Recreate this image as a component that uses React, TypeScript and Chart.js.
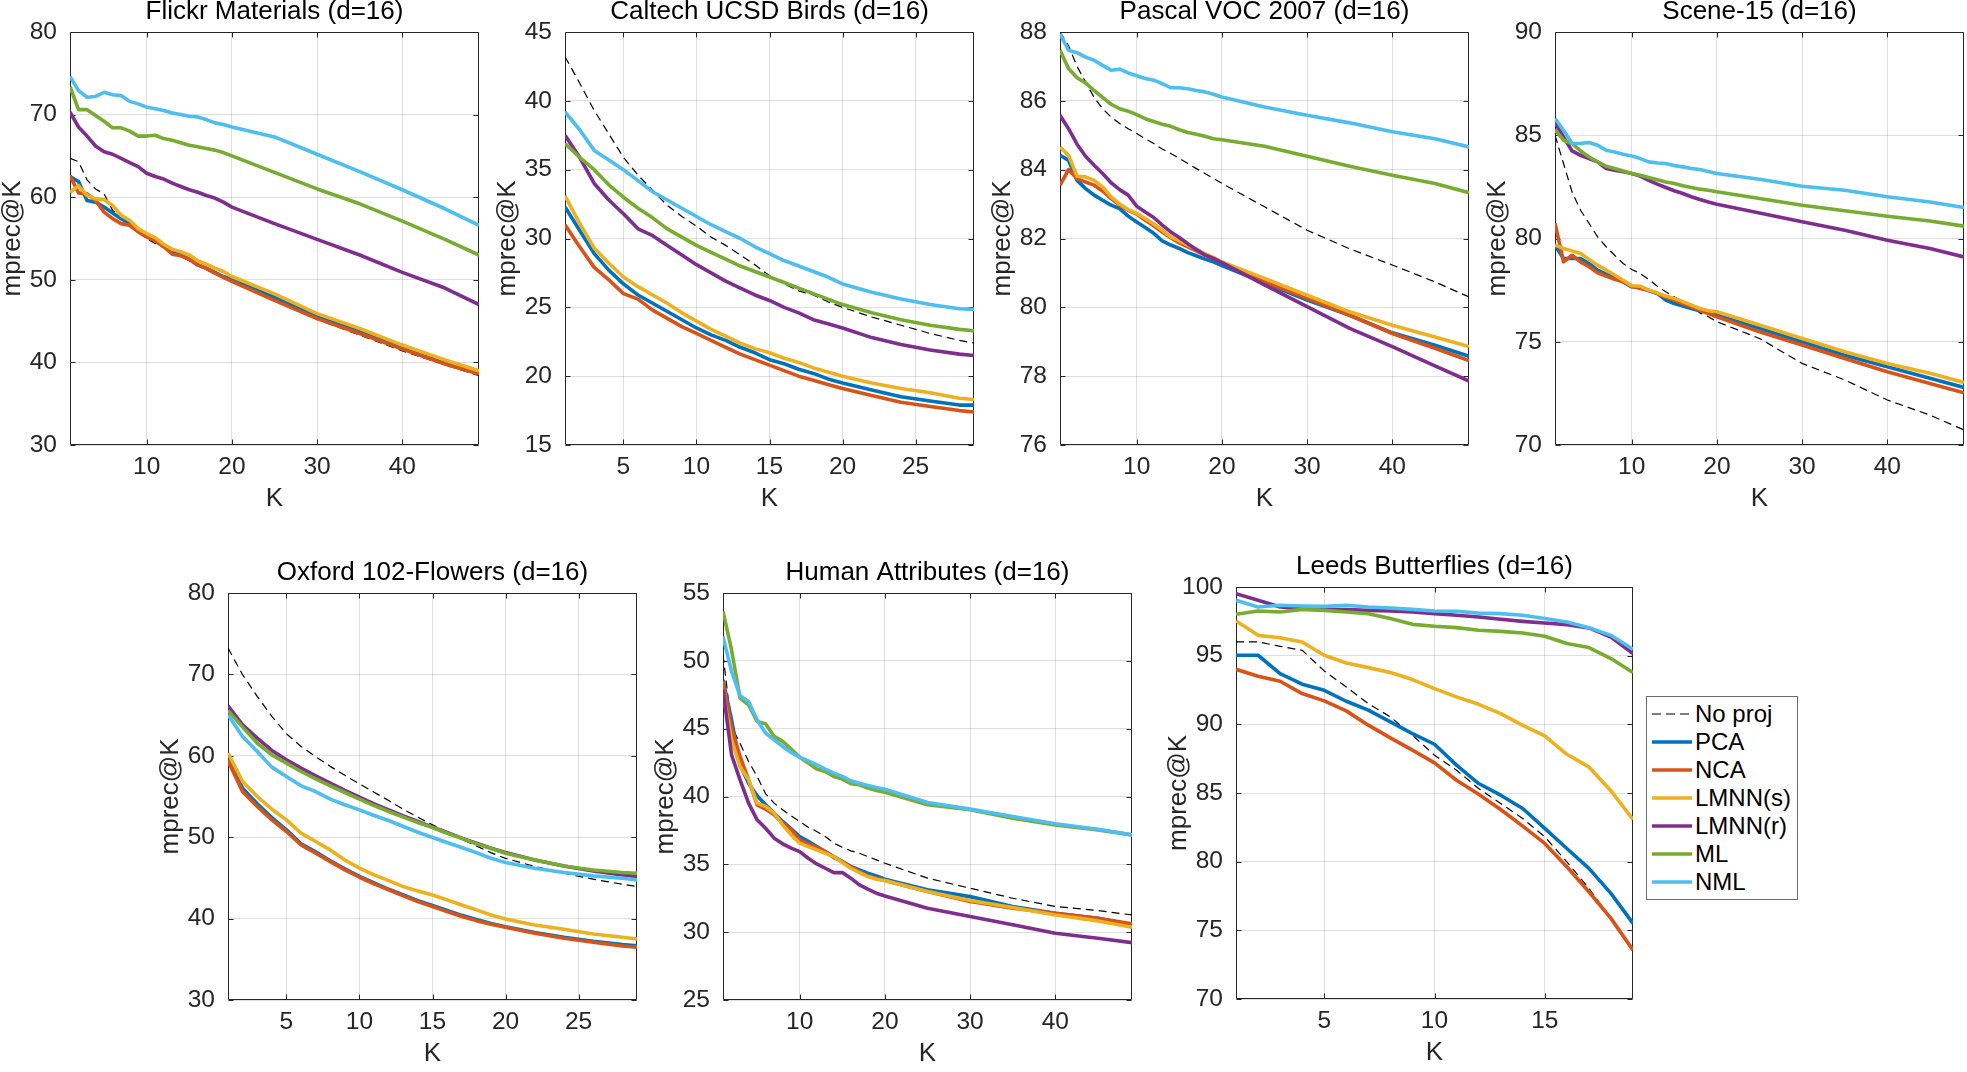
import React, { useEffect, useRef } from "react";
import { Chart, registerables } from "chart.js";

Chart.register(...registerables);

const FONT = '"Liberation Sans", Arial, Helvetica, sans-serif';
const AXIS_COLOR = "#262626";

const seriesNames = ["No proj", "PCA", "NCA", "LMNN(s)", "LMNN(r)", "ML", "NML"];
const seriesColors = ["#000000", "#0072BD", "#D95319", "#EDB120", "#7E2F8E", "#77AC30", "#4DBEEE"];

// K values sampled per panel
const kLong = [1, 2, 3, 4, 5, 6, 7, 8, 9, 10, 11, 12, 13, 14, 15, 16, 17, 18, 19, 20, 25, 30, 35, 40, 45, 49];
const kMid = [1, 2, 3, 4, 5, 6, 7, 8, 9, 10, 11, 12, 13, 14, 15, 16, 17, 18, 19, 20, 22, 24, 26, 28, 29];
const kLeeds = [1, 2, 3, 4, 5, 6, 7, 8, 9, 10, 11, 12, 13, 14, 15, 16, 17, 18, 19];

const xTicksLong = [10, 20, 30, 40];
const xTicksMid = [5, 10, 15, 20, 25];
const xTicksLeeds = [5, 10, 15];

// Flickr Materials
const flickrNoProj = [64.7, 64.3, 62.1, 61.0, 60.4, 58.4, 57.6, 56.7, 55.8, 55.0, 54.4, 53.9, 53.3, 52.8, 52.3, 51.7, 51.2, 50.7, 50.2, 49.7, 47.7, 45.2, 43.3, 41.4, 39.7, 38.4];
const flickrPCA = [62.5, 61.9, 59.6, 59.4, 58.8, 58.1, 57.4, 56.8, 56.1, 55.4, 54.8, 54.2, 53.4, 53.0, 52.5, 51.8, 51.4, 50.9, 50.4, 50.0, 47.9, 45.5, 43.8, 41.7, 39.9, 38.7];
const flickrNCA = [62.6, 60.5, 60.4, 59.6, 58.2, 57.4, 56.8, 56.6, 55.8, 55.2, 54.7, 54.0, 53.1, 52.9, 52.5, 51.8, 51.4, 50.8, 50.3, 49.8, 47.5, 45.3, 43.5, 41.6, 39.8, 38.6];
const flickrLMNNs = [60.6, 61.4, 60.2, 59.8, 59.7, 59.0, 57.8, 57.2, 56.2, 55.6, 55.1, 54.3, 53.7, 53.4, 53.0, 52.3, 51.9, 51.4, 51.0, 50.4, 48.3, 45.9, 44.1, 42.1, 40.3, 39.0];
const flickrLMNNr = [70.3, 68.5, 67.4, 66.2, 65.5, 65.2, 64.7, 64.2, 63.7, 62.9, 62.5, 62.2, 61.7, 61.3, 60.9, 60.6, 60.2, 59.9, 59.4, 58.8, 56.8, 54.9, 53.0, 50.9, 49.0, 47.0];
const flickrML = [73.4, 70.6, 70.6, 69.9, 69.2, 68.4, 68.4, 68.0, 67.4, 67.4, 67.5, 67.1, 66.9, 66.6, 66.3, 66.1, 65.9, 65.7, 65.4, 65.0, 63.0, 61.0, 59.2, 57.1, 54.9, 53.0];
const flickrNML = [74.6, 72.9, 72.1, 72.2, 72.7, 72.4, 72.3, 71.6, 71.3, 70.9, 70.7, 70.5, 70.2, 70.0, 69.8, 69.7, 69.4, 69.0, 68.8, 68.5, 67.3, 65.2, 63.1, 60.9, 58.6, 56.6];

// Caltech UCSD Birds
const birdsNoProj = [43.2, 41.3, 39.3, 37.6, 35.9, 34.6, 33.5, 32.4, 31.6, 30.9, 30.1, 29.5, 28.8, 28.1, 27.3, 26.7, 26.2, 25.9, 25.4, 25.0, 24.3, 23.7, 23.1, 22.6, 22.4];
const birdsPCA = [32.3, 30.6, 28.9, 27.7, 26.7, 25.9, 25.3, 24.7, 24.1, 23.5, 23.0, 22.6, 22.1, 21.7, 21.2, 20.9, 20.5, 20.2, 19.8, 19.5, 19.0, 18.5, 18.2, 17.9, 17.9];
const birdsNCA = [31.0, 29.4, 27.9, 27.0, 26.0, 25.6, 24.8, 24.2, 23.6, 23.1, 22.6, 22.1, 21.6, 21.2, 20.8, 20.4, 20.0, 19.7, 19.4, 19.1, 18.6, 18.1, 17.8, 17.5, 17.4];
const birdsLMNNs = [33.1, 31.1, 29.3, 28.2, 27.2, 26.5, 25.9, 25.3, 24.6, 24.0, 23.4, 22.9, 22.4, 22.0, 21.7, 21.3, 21.0, 20.6, 20.3, 20.0, 19.5, 19.1, 18.8, 18.4, 18.3];
const birdsLMNNr = [37.5, 35.9, 34.0, 32.8, 31.8, 30.7, 30.2, 29.5, 28.8, 28.1, 27.5, 26.9, 26.4, 25.9, 25.5, 25.0, 24.6, 24.1, 23.8, 23.5, 22.8, 22.3, 21.9, 21.6, 21.5];
const birdsML = [36.9, 35.9, 35.0, 33.9, 33.0, 32.2, 31.5, 30.7, 30.1, 29.5, 29.0, 28.5, 28.0, 27.6, 27.2, 26.8, 26.4, 26.0, 25.6, 25.2, 24.6, 24.1, 23.7, 23.4, 23.3];
const birdsNML = [39.2, 37.9, 36.4, 35.7, 35.0, 34.2, 33.4, 32.8, 32.2, 31.6, 31.0, 30.5, 30.0, 29.4, 28.9, 28.4, 28.0, 27.6, 27.2, 26.7, 26.1, 25.6, 25.2, 24.9, 24.85];

// Pascal VOC 2007
const vocNoProj = [88.0, 87.6, 87.0, 86.55, 86.1, 85.77, 85.53, 85.34, 85.19, 85.05, 84.9, 84.76, 84.6, 84.47, 84.33, 84.18, 84.03, 83.89, 83.75, 83.6, 82.92, 82.24, 81.7, 81.23, 80.74, 80.3];
const vocPCA = [84.42, 84.27, 83.69, 83.45, 83.26, 83.11, 82.97, 82.87, 82.65, 82.48, 82.32, 82.15, 81.93, 81.81, 81.71, 81.59, 81.5, 81.4, 81.32, 81.21, 80.71, 80.21, 79.77, 79.26, 78.9, 78.58];
const vocNCA = [83.55, 84.0, 83.74, 83.64, 83.55, 83.38, 83.16, 82.97, 82.82, 82.71, 82.53, 82.37, 82.19, 82.02, 81.87, 81.76, 81.64, 81.52, 81.42, 81.3, 80.74, 80.26, 79.77, 79.24, 78.81, 78.45];
const vocLMNNs = [84.66, 84.42, 83.81, 83.79, 83.69, 83.5, 83.21, 83.0, 82.84, 82.73, 82.58, 82.42, 82.24, 82.05, 81.93, 81.81, 81.69, 81.56, 81.45, 81.32, 80.84, 80.35, 79.87, 79.48, 79.14, 78.86];
const vocLMNNr = [85.58, 85.19, 84.74, 84.39, 84.13, 83.89, 83.62, 83.42, 83.26, 82.94, 82.77, 82.61, 82.39, 82.19, 82.03, 81.85, 81.68, 81.52, 81.42, 81.3, 80.65, 80.02, 79.39, 78.86, 78.3, 77.86];
const vocML = [87.47, 86.94, 86.67, 86.52, 86.3, 86.1, 85.9, 85.77, 85.7, 85.6, 85.48, 85.4, 85.32, 85.26, 85.16, 85.08, 85.03, 84.97, 84.9, 84.87, 84.68, 84.39, 84.1, 83.84, 83.6, 83.33];
const vocNML = [87.95, 87.47, 87.4, 87.27, 87.18, 87.03, 86.89, 86.92, 86.81, 86.73, 86.65, 86.6, 86.5, 86.38, 86.38, 86.35, 86.3, 86.26, 86.19, 86.11, 85.82, 85.58, 85.36, 85.1, 84.9, 84.66];

// Scene-15
const sceneNoProj = [85.0, 83.63, 82.26, 81.37, 80.73, 80.08, 79.6, 79.19, 78.79, 78.5, 78.31, 78.02, 77.69, 77.42, 77.18, 76.94, 76.69, 76.4, 76.21, 75.97, 75.16, 73.95, 73.15, 72.18, 71.45, 70.73];
const scenePCA = [79.68, 79.03, 79.03, 79.03, 78.79, 78.47, 78.27, 78.11, 77.9, 77.66, 77.63, 77.47, 77.34, 77.02, 76.85, 76.73, 76.61, 76.5, 76.4, 76.29, 75.65, 75.0, 74.35, 73.79, 73.23, 72.79];
const sceneNCA = [80.73, 78.87, 79.19, 78.87, 78.63, 78.34, 78.18, 78.02, 77.9, 77.69, 77.58, 77.5, 77.34, 77.15, 77.02, 76.85, 76.69, 76.53, 76.37, 76.21, 75.48, 74.84, 74.19, 73.55, 72.98, 72.53];
const sceneLMNNs = [79.68, 79.52, 79.4, 79.27, 78.98, 78.71, 78.47, 78.23, 77.98, 77.71, 77.69, 77.5, 77.37, 77.21, 77.1, 76.94, 76.77, 76.61, 76.5, 76.45, 75.81, 75.16, 74.52, 73.95, 73.47, 73.03];
const sceneLMNNr = [85.6, 84.92, 84.24, 84.03, 83.87, 83.71, 83.39, 83.31, 83.23, 83.15, 83.02, 82.82, 82.63, 82.47, 82.31, 82.18, 82.02, 81.89, 81.77, 81.66, 81.24, 80.81, 80.4, 79.92, 79.52, 79.11];
const sceneML = [85.27, 84.76, 84.6, 84.24, 83.95, 83.71, 83.5, 83.39, 83.27, 83.15, 83.06, 82.95, 82.85, 82.74, 82.66, 82.55, 82.47, 82.39, 82.34, 82.26, 81.94, 81.61, 81.34, 81.08, 80.85, 80.6];
const sceneNML = [85.81, 85.24, 84.6, 84.6, 84.65, 84.52, 84.27, 84.19, 84.08, 84.0, 83.87, 83.71, 83.66, 83.63, 83.53, 83.47, 83.39, 83.34, 83.24, 83.15, 82.87, 82.53, 82.34, 82.02, 81.77, 81.5];

// Oxford 102-Flowers
const flowersNoProj = [73.24, 69.96, 67.3, 64.84, 62.7, 61.15, 59.9, 58.7, 57.6, 56.56, 55.53, 54.5, 53.44, 52.46, 51.52, 50.6, 49.75, 48.93, 48.1, 47.4, 46.4, 45.57, 44.84, 44.22, 43.93];
const flowersPCA = [59.7, 56.0, 54.1, 52.4, 50.9, 49.2, 48.2, 47.1, 46.1, 45.2, 44.4, 43.6, 42.9, 42.2, 41.6, 41.0, 40.4, 39.9, 39.4, 39.0, 38.3, 37.7, 37.2, 36.8, 36.65];
const flowersNCA = [59.4, 55.6, 53.77, 52.13, 50.7, 49.06, 48.03, 47.0, 45.98, 45.08, 44.26, 43.52, 42.79, 42.09, 41.48, 40.86, 40.25, 39.75, 39.3, 38.93, 38.2, 37.58, 37.09, 36.64, 36.48];
const flowersLMNNs = [60.33, 56.84, 55.0, 53.44, 52.13, 50.5, 49.47, 48.44, 47.2, 46.2, 45.37, 44.67, 43.93, 43.4, 42.9, 42.3, 41.68, 41.07, 40.45, 39.96, 39.22, 38.69, 38.11, 37.7, 37.5];
const flowersLMNNr = [66.15, 63.81, 62.17, 60.66, 59.51, 58.48, 57.54, 56.64, 55.74, 54.92, 54.1, 53.36, 52.62, 51.93, 51.23, 50.57, 49.88, 49.26, 48.65, 48.11, 47.21, 46.47, 45.86, 45.37, 45.16];
const flowersML = [65.57, 63.52, 61.56, 60.12, 59.1, 58.07, 57.17, 56.31, 55.49, 54.67, 53.89, 53.16, 52.46, 51.8, 51.19, 50.49, 49.88, 49.18, 48.65, 48.03, 47.21, 46.47, 45.98, 45.66, 45.57];
const flowersNML = [65.04, 62.38, 60.53, 58.61, 57.46, 56.31, 55.61, 54.67, 53.98, 53.36, 52.66, 52.05, 51.31, 50.61, 49.96, 49.34, 48.73, 48.11, 47.42, 46.89, 46.19, 45.66, 45.25, 44.96, 44.75];

// Human Attributes
const humanNoProj = [50.45, 45.16, 43.93, 42.58, 41.48, 40.2, 39.51, 39.02, 38.57, 38.16, 37.74, 37.42, 37.05, 36.56, 36.26, 35.99, 35.82, 35.57, 35.33, 35.08, 33.98, 33.24, 32.5, 31.89, 31.59, 31.27];
const humanPCA = [48.6, 45.66, 42.34, 40.98, 40.05, 39.39, 38.77, 38.16, 37.62, 37.05, 36.69, 36.31, 35.94, 35.57, 35.21, 34.84, 34.59, 34.35, 34.15, 33.9, 33.12, 32.62, 31.89, 31.4, 31.03, 30.54];
const humanNCA = [48.48, 45.04, 42.95, 41.23, 39.39, 39.07, 38.65, 38.04, 37.55, 36.8, 36.51, 36.26, 35.94, 35.5, 35.21, 34.84, 34.47, 34.15, 33.98, 33.81, 33.0, 32.26, 31.77, 31.4, 31.03, 30.61];
const humanLMNNs = [47.62, 44.18, 42.21, 41.23, 39.51, 39.26, 38.77, 37.91, 37.18, 36.56, 36.31, 36.07, 35.82, 35.57, 35.13, 34.71, 34.39, 34.1, 33.9, 33.81, 33.0, 32.33, 31.82, 31.27, 30.83, 30.36];
const humanLMNNr = [47.87, 43.07, 41.23, 39.51, 38.28, 37.66, 36.93, 36.51, 36.19, 35.94, 35.45, 35.03, 34.71, 34.39, 34.39, 33.98, 33.49, 33.17, 32.87, 32.67, 31.77, 31.15, 30.54, 29.92, 29.55, 29.23];
const humanML = [53.65, 50.82, 47.25, 46.76, 45.53, 45.36, 44.43, 44.06, 43.49, 42.9, 42.46, 42.02, 41.85, 41.48, 41.28, 40.94, 40.86, 40.62, 40.44, 40.32, 39.39, 39.02, 38.4, 37.9, 37.54, 37.17];
const humanNML = [51.8, 49.22, 47.43, 47.0, 45.66, 44.67, 44.18, 43.69, 43.25, 42.9, 42.63, 42.34, 42.02, 41.72, 41.48, 41.16, 40.98, 40.81, 40.66, 40.54, 39.56, 39.07, 38.53, 37.99, 37.59, 37.17];

// Leeds Butterflies
const leedsNoProj = [96.0, 96.0, 95.68, 95.39, 93.89, 92.72, 91.51, 90.54, 89.2, 87.75, 86.66, 85.33, 84.24, 83.14, 81.81, 79.99, 78.05, 75.87, 73.44];
const leedsPCA = [95.03, 95.03, 93.69, 92.92, 92.48, 91.68, 91.03, 90.18, 89.33, 88.55, 87.03, 85.69, 84.84, 83.87, 82.42, 80.96, 79.51, 77.69, 75.51];
const leedsNCA = [94.01, 93.5, 93.14, 92.24, 91.71, 90.98, 89.94, 89.01, 88.12, 87.19, 85.93, 84.91, 83.8, 82.59, 81.33, 79.63, 77.81, 75.87, 73.56];
const leedsLMNNs = [97.53, 96.48, 96.31, 96.0, 95.03, 94.47, 94.13, 93.77, 93.26, 92.6, 92.0, 91.46, 90.78, 89.93, 89.16, 87.82, 86.9, 85.16, 83.07];
const leedsLMNNr = [99.51, 99.03, 98.54, 98.42, 98.37, 98.35, 98.3, 98.25, 98.18, 98.06, 97.94, 97.82, 97.65, 97.5, 97.38, 97.26, 97.02, 96.36, 95.15];
const leedsML = [98.01, 98.25, 98.18, 98.37, 98.3, 98.18, 98.06, 97.7, 97.28, 97.14, 97.04, 96.85, 96.77, 96.65, 96.41, 95.88, 95.59, 94.79, 93.77];
const leedsNML = [99.03, 98.54, 98.67, 98.62, 98.59, 98.67, 98.54, 98.47, 98.37, 98.25, 98.23, 98.1, 98.06, 97.94, 97.7, 97.45, 97.04, 96.48, 95.46];

// y tick labels per panel
const yTicksFlickr = [30, 40, 50, 60, 70, 80];
const yTicksBirds = [15, 20, 25, 30, 35, 40, 45];
const yTicksVoc = [76, 78, 80, 82, 84, 86, 88];
const yTicksScene = [70, 75, 80, 85, 90];
const yTicksFlowers = [30, 40, 50, 60, 70, 80];
const yTicksHuman = [25, 30, 35, 40, 45, 50, 55];
const yTicksLeeds = [70, 75, 80, 85, 90, 95, 100];

type PanelDef = {
  title: string;
  k: number[];
  series: number[][];
  xMax: number;
  xTicks: number[];
  yTicks: number[];
  box: [number, number, number, number]; // plot area: left, top, right, bottom
};

const panels: PanelDef[] = [
  { title: "Flickr Materials (d=16)", k: kLong, series: [flickrNoProj, flickrPCA, flickrNCA, flickrLMNNs, flickrLMNNr, flickrML, flickrNML], xMax: 49, xTicks: xTicksLong, yTicks: yTicksFlickr, box: [70, 32, 479, 445] },
  { title: "Caltech UCSD Birds (d=16)", k: kMid, series: [birdsNoProj, birdsPCA, birdsNCA, birdsLMNNs, birdsLMNNr, birdsML, birdsNML], xMax: 29, xTicks: xTicksMid, yTicks: yTicksBirds, box: [565, 32, 974, 445] },
  { title: "Pascal VOC 2007 (d=16)", k: kLong, series: [vocNoProj, vocPCA, vocNCA, vocLMNNs, vocLMNNr, vocML, vocNML], xMax: 49, xTicks: xTicksLong, yTicks: yTicksVoc, box: [1060, 32, 1469, 445] },
  { title: "Scene-15 (d=16)", k: kLong, series: [sceneNoProj, scenePCA, sceneNCA, sceneLMNNs, sceneLMNNr, sceneML, sceneNML], xMax: 49, xTicks: xTicksLong, yTicks: yTicksScene, box: [1555, 32, 1964, 445] },
  { title: "Oxford 102-Flowers (d=16)", k: kMid, series: [flowersNoProj, flowersPCA, flowersNCA, flowersLMNNs, flowersLMNNr, flowersML, flowersNML], xMax: 29, xTicks: xTicksMid, yTicks: yTicksFlowers, box: [228, 593, 637, 1000] },
  { title: "Human Attributes (d=16)", k: kLong, series: [humanNoProj, humanPCA, humanNCA, humanLMNNs, humanLMNNr, humanML, humanNML], xMax: 49, xTicks: xTicksLong, yTicks: yTicksHuman, box: [723, 593, 1132, 1000] },
  { title: "Leeds Butterflies (d=16)", k: kLeeds, series: [leedsNoProj, leedsPCA, leedsNCA, leedsLMNNs, leedsLMNNr, leedsML, leedsNML], xMax: 19, xTicks: xTicksLeeds, yTicks: yTicksLeeds, box: [1236, 587, 1633, 999] },
];

const W_Y = 80;
const T_H = 36;
const H_X = 75;
const R_PAD = 3;
const TICK_LEN = 5;

const boxPlugin = {
  id: "matlabBox",
  beforeDatasetsDraw(chart: any) {
    const { ctx, chartArea, scales } = chart;
    const L = Math.round(chartArea.left) + 0.5;
    const R = Math.round(chartArea.right) - 0.5;
    const T = Math.round(chartArea.top) + 0.5;
    const B = Math.round(chartArea.bottom) - 0.5;
    ctx.save();
    ctx.strokeStyle = AXIS_COLOR;
    ctx.lineWidth = 1;
    ctx.beginPath();
    ctx.moveTo(L, T);
    ctx.lineTo(R, T);
    ctx.lineTo(R, B);
    ctx.lineTo(L, B);
    ctx.closePath();
    scales.x.ticks.forEach((t: any) => {
      const px = Math.round(scales.x.getPixelForValue(t.value)) + 0.5;
      ctx.moveTo(px, B);
      ctx.lineTo(px, B - TICK_LEN);
      ctx.moveTo(px, T);
      ctx.lineTo(px, T + TICK_LEN);
    });
    scales.y.ticks.forEach((t: any) => {
      const py = Math.round(scales.y.getPixelForValue(t.value)) + 0.5;
      ctx.moveTo(L, py);
      ctx.lineTo(L + TICK_LEN, py);
      ctx.moveTo(R, py);
      ctx.lineTo(R - TICK_LEN, py);
    });
    ctx.stroke();
    ctx.restore();
  },
};

function Panel({ def }: { def: PanelDef }) {
  const ref = useRef<HTMLCanvasElement | null>(null);
  const [l, t, r, b] = def.box;
  const width = W_Y + (r - l) + R_PAD;
  const height = T_H + (b - t) + H_X;

  useEffect(() => {
    const canvas = ref.current;
    if (!canvas) return;
    const datasets = def.series.map((vals, i) => ({
      label: seriesNames[i],
      data: def.k.map((kk, j) => ({ x: kk, y: vals[j] })),
      borderColor: seriesColors[i],
      backgroundColor: seriesColors[i],
      borderWidth: i === 0 ? 1.2 : 3.6,
      borderDash: i === 0 ? [8, 5] : [],
      pointRadius: 0,
      pointHoverRadius: 0,
      tension: 0,
      fill: false,
      order: seriesNames.length - i,
      borderJoinStyle: "round" as const,
    }));
    const yMin = def.yTicks[0];
    const yMax = def.yTicks[def.yTicks.length - 1];
    const chart = new Chart(canvas, {
      type: "line",
      data: { datasets },
      options: {
        responsive: false,
        animation: false,
        devicePixelRatio: 1,
        events: [],
        layout: { padding: { left: 0, right: R_PAD, top: 0, bottom: 0 } },
        plugins: {
          legend: { display: false },
          tooltip: { enabled: false },
          title: {
            display: true,
            text: def.title,
            color: "#000000",
            fullSize: false,
            font: { family: FONT, size: 26, weight: "normal", lineHeight: 31 / 26 },
            padding: { top: 0, bottom: 5 },
          },
        },
        scales: {
          x: {
            type: "linear",
            min: 1,
            max: def.xMax,
            afterBuildTicks: (s: any) => {
              s.ticks = def.xTicks.map((v) => ({ value: v }));
            },
            afterFit: (s: any) => {
              s.height = H_X;
            },
            border: { display: false },
            grid: { color: "rgba(38,38,38,0.15)", lineWidth: 1, drawTicks: false },
            ticks: { color: AXIS_COLOR, padding: 8, font: { family: FONT, size: 24.5 }, maxRotation: 0 },
            title: {
              display: true,
              text: "K",
              color: AXIS_COLOR,
              font: { family: FONT, size: 26, lineHeight: 1.2 },
              padding: { top: 0, bottom: 6 },
            },
          },
          y: {
            type: "linear",
            min: yMin,
            max: yMax,
            afterBuildTicks: (s: any) => {
              s.ticks = def.yTicks.map((v) => ({ value: v }));
            },
            afterFit: (s: any) => {
              s.width = W_Y;
            },
            border: { display: false },
            grid: { color: "rgba(38,38,38,0.15)", lineWidth: 1, drawTicks: false },
            ticks: { color: AXIS_COLOR, padding: 13, font: { family: FONT, size: 24.5 } },
            title: {
              display: true,
              text: "mprec@K",
              color: AXIS_COLOR,
              font: { family: FONT, size: 26, lineHeight: 1.2 },
              padding: { top: 7, bottom: 0 },
            },
          },
        },
      },
      plugins: [boxPlugin],
    } as any);
    return () => chart.destroy();
  }, [def]);

  return (
    <canvas
      ref={ref}
      width={width}
      height={height}
      style={{ position: "absolute", left: l - W_Y, top: t - T_H, width, height }}
    />
  );
}

function Legend() {
  const left = 1646;
  const top = 696;
  const w = 152;
  const h = 204;
  const rowH = 28.1;
  const first = 16.5;
  return (
    <div
      style={{
        position: "absolute",
        left,
        top,
        width: w,
        height: h,
        border: "1px solid #6b6b6b",
        boxSizing: "border-box",
        background: "#ffffff",
      }}
    >
      {seriesNames.map((name, i) => (
        <div key={name} style={{ position: "absolute", left: 0, top: first + i * rowH - 14, height: 28, width: "100%" }}>
          <svg width={40} height={28} style={{ position: "absolute", left: 5, top: 0 }}>
            <line
              x1={0}
              y1={14}
              x2={40}
              y2={14}
              stroke={seriesColors[i]}
              strokeWidth={i === 0 ? 1.2 : 3.6}
              strokeDasharray={i === 0 ? "9 5" : undefined}
            />
          </svg>
          <span
            style={{
              position: "absolute",
              left: 48,
              top: 0,
              lineHeight: "28px",
              fontSize: 24,
              fontFamily: FONT,
              color: "#000000",
              whiteSpace: "nowrap",
            }}
          >
            {name}
          </span>
        </div>
      ))}
    </div>
  );
}

export default function App() {
  return (
    <div
      style={{
        position: "absolute",
        left: 0,
        top: 0,
        width: 1967,
        height: 1072,
        overflow: "hidden",
        background: "#ffffff",
      }}
    >
      {panels.map((p) => (
        <Panel key={p.title} def={p} />
      ))}
      <Legend />
    </div>
  );
}
